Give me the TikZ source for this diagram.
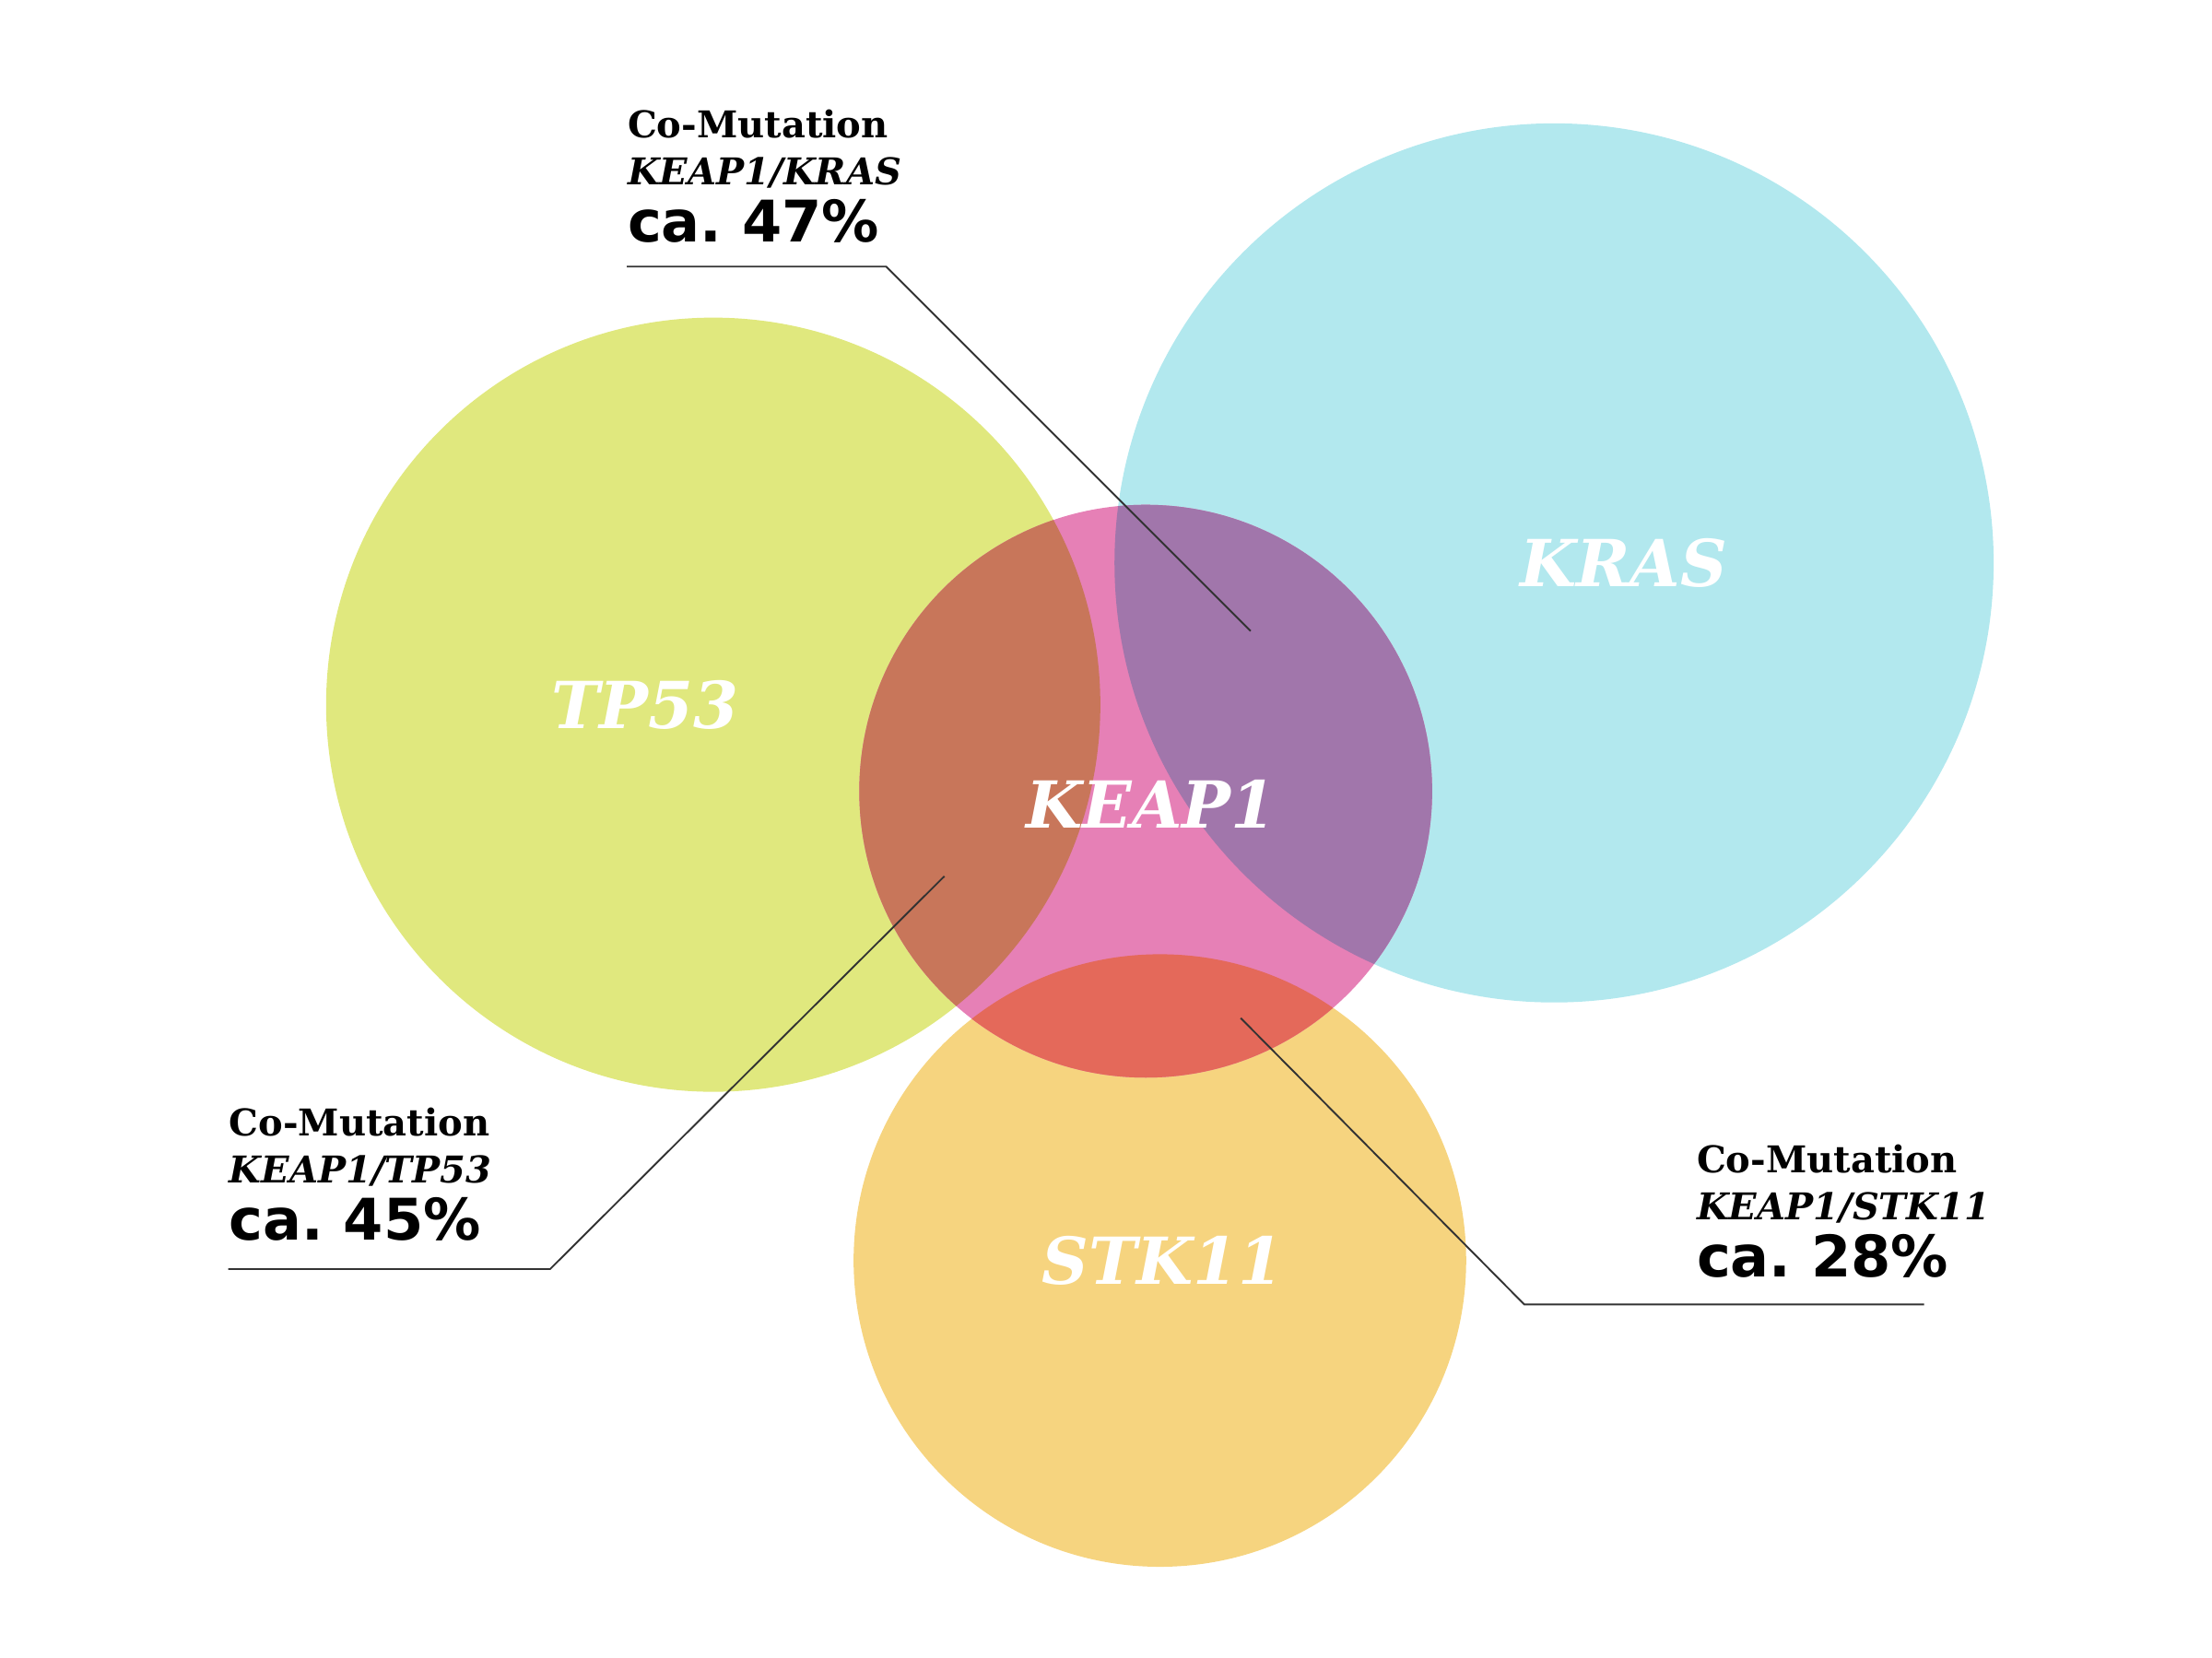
\documentclass[tikz,border=0pt]{standalone}
\usepackage{fontspec}
\setmainfont{DejaVu Serif}
\setsansfont{DejaVu Sans}
\usetikzlibrary{positioning}
\definecolor{tpgreen}{HTML}{E0E87E}
\definecolor{krblue}{HTML}{B2E8EE}
\definecolor{stkorange}{HTML}{F6D47F}
\definecolor{kppink}{HTML}{E680B6}
\definecolor{kptp}{HTML}{C8765A}
\definecolor{kpkr}{HTML}{A176AB}
\definecolor{kpstk}{HTML}{E4695A}
\tikzset{
  gene/.style={text=white,font=\fontsize{13}{15}\selectfont\bfseries\itshape},
  note/.style={align=left,anchor=south west,inner sep=0pt,font=\fontsize{7.4}{9.5}\selectfont\bfseries},
  leader/.style={draw=black!80,line width=0.35pt}
}
\begin{document}
\begin{tikzpicture}[x=0.01cm,y=-0.01cm]
   \useasboundingbox (0,0) rectangle (1560,1169);
   % circles
   \fill[tpgreen] (503,497) circle(273);
   \fill[krblue] (1096,397) circle(310);
   \fill[stkorange] (818,889) circle(216);
   \fill[kppink] (808,558) circle(202);
   \begin{scope}
      \clip (808,558) circle(202);
      \fill[kptp] (503,497) circle(273);
      \fill[kpkr] (1096,397) circle(310);
      \fill[kpstk] (818,889) circle(216);
   \end{scope}

   \node[gene] (tp53) at (455,497) {TP53};
   \node[gene] (kras) at (1145,397) {KRAS};
   \node[gene] (keap1) at (812,567) {KEAP1};
   \node[gene] (stk11) at (820,889) {STK11};

   % annotations
   \node[note] (nkras) at (442,172) {Co-Mutation\\\itshape KEAP1/KRAS\\[2pt]
      {\sffamily\fontsize{11.5}{13}\selectfont ca.\ 47\%}};
   \node[note] (ntp53) at (161,876) {Co-Mutation\\\itshape KEAP1/TP53\\[2pt]
      {\sffamily\fontsize{11.5}{13}\selectfont ca.\ 45\%}};
   \node[note] (nstk11) at (1196,902) {Co-Mutation\\\itshape KEAP1/STK11\\[2pt]
      {\sffamily\fontsize{11.5}{13}\selectfont ca.\ 28\%}};

   \coordinate (pkras) at (882,445);
   \coordinate (ptp53) at (666,618);
   \coordinate (pstk11) at (875,718);

   \draw[leader] (pkras) -- (625,188) -- (442,188);
   \draw[leader] (ptp53) -- (388,895) -- (161,895);
   \draw[leader] (pstk11) -- (1075,920) -- (1357,920);
\end{tikzpicture}
\end{document}
